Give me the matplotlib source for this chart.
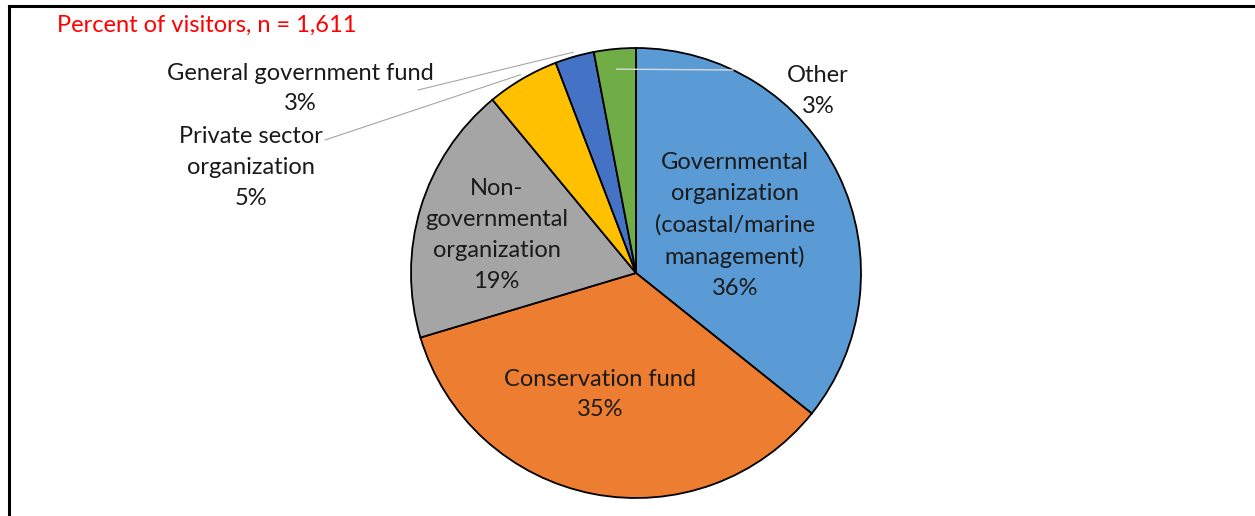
import numpy as np
import matplotlib.pyplot as plt
from matplotlib.lines import Line2D

# slices clockwise from 12 o'clock
names = ["Governmental\norganization\n(coastal/marine\nmanagement)", "Conservation fund",
         "Non-\ngovernmental\norganization", "Private sector\norganization",
         "General government fund", "Other"]
shares = [35.7, 34.6, 18.6, 5.2, 2.8, 3.0]
colors = ["#5B9BD5", "#ED7D31", "#A5A5A5", "#FFC000", "#4472C4", "#70AD47"]

# label centres (pie data units, radius = 1)
label_xy = [(0.44, 0.21), (-0.16, -0.54), (-0.62, 0.17), (-1.71, 0.47), (-1.49, 0.82), (0.81, 0.81)]

plt.rcParams['font.family'] = ['Lato', 'DejaVu Sans']

W, H = 1255, 516
fig = plt.figure(figsize=(W / 100, H / 100), dpi=100)
cx, cy, r = 636, 273, 225
ax = fig.add_axes([(cx - r) / W, (H - cy - r) / H, 2 * r / W, 2 * r / H])
ax.axis('off')

wedges, _ = ax.pie(shares, colors=colors, startangle=90, counterclock=False, radius=1,
                   wedgeprops=dict(edgecolor='black', linewidth=1.3))
ax.set_xlim(-1, 1)
ax.set_ylim(-1, 1)

for i, (name, v) in enumerate(zip(names, shares)):
    x, y = label_xy[i]
    ax.text(x, y, "%s\n%.0f%%" % (name, v), ha='center', va='center', fontsize=17,
            linespacing=1.58, color='#1a1a1a', clip_on=False)

def mid_point(w, rad):
    a = np.deg2rad((w.theta1 + w.theta2) / 2)
    return rad * np.cos(a), rad * np.sin(a)

# leader lines
px = lambda X, Y: ((X - cx) / r, (cy - Y) / r)
ex, ey = mid_point(wedges[4], 1.02)
sx, sy = px(418, 90)
ax.plot([sx, ex], [sy, ey], color='#A6A6A6', lw=0.8, clip_on=False)
ex, ey = mid_point(wedges[3], 1.02)
sx, sy = px(325, 140)
ax.plot([sx, ex], [sy, ey], color='#A6A6A6', lw=0.8, clip_on=False)
ex, ey = mid_point(wedges[5], 0.91)
sx, sy = px(733, 70)
ax.plot([ex, sx], [ey, sy], color='#D9D9D9', lw=1.0, clip_on=False)

fig.text(57 / W, 1 - 25 / H, "Percent of visitors, n = 1,611", color='#FF0000',
         fontsize=17, ha='left', va='center')

# frame (top and left edges)
fig.add_artist(Line2D([9 / W, 1], [1 - 6 / H, 1 - 6 / H], color='black', lw=2.2))
fig.add_artist(Line2D([9 / W, 9 / W], [0, 1 - 6 / H], color='black', lw=2.2))

fig.savefig("out.png", dpi=100, facecolor='white')
